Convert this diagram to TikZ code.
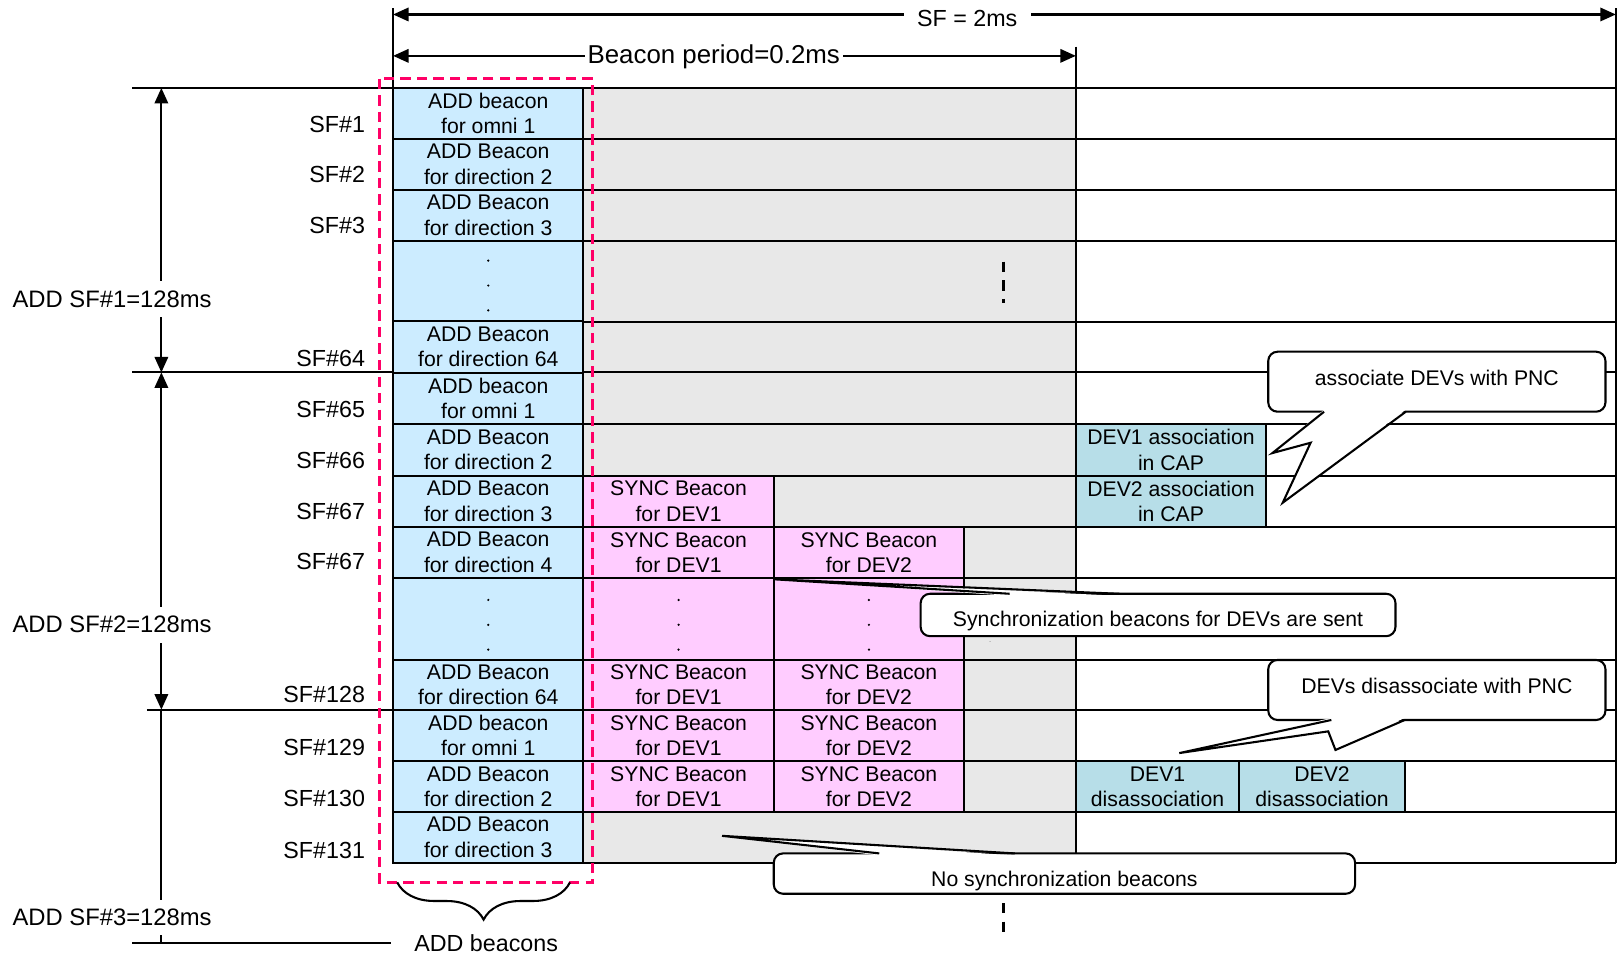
\documentclass[tikz,border=0pt]{standalone}
\usepackage{fontspec}
\setmainfont{Liberation Sans}
\usetikzlibrary{arrows.meta,positioning,decorations.pathreplacing,calc}
\definecolor{addblue}{HTML}{CCECFF}
\definecolor{syncpink}{HTML}{FFCCFF}
\definecolor{devteal}{HTML}{B7DEE8}
\definecolor{periodgray}{HTML}{E8E8E8}
\definecolor{hotpink}{HTML}{FF0066}
\tikzset{
  cell/.style={draw, line width=2pt, minimum height=49.5pt, inner sep=0pt, align=center,
               font=\fontsize{20.5}{24.5}\selectfont},
  addcell/.style={cell, fill=addblue, minimum width=184pt},
  synccell/.style={cell, fill=syncpink, minimum width=184pt},
  devcell/.style={cell, fill=devteal},
  sfnum/.style={anchor=east, inner sep=0pt, font=\fontsize{22.5}{27}\selectfont},
  dimlab/.style={anchor=west, fill=white, inner xsep=0pt, inner ysep=9pt, font=\fontsize{23}{27}\selectfont},
  callout/.style={draw, line width=2pt, fill=white, rounded corners=9pt, align=center, outer sep=0pt,
                  inner sep=0pt, text depth=4pt, font=\fontsize{20.5}{24.5}\selectfont},
  pointer/.style={line width=2pt, line join=miter},
  dimarr/.style={{Triangle[length=15pt,width=13pt]}-{Triangle[length=15pt,width=13pt]}, line width=2pt},
  gridline/.style={line width=2pt},
  gapdash/.style={line width=2.5pt, dash pattern=on 10pt off 8pt},
}
\begin{document}
\begin{tikzpicture}[x=1pt, y=-1pt]
  \useasboundingbox (0,0) rectangle (1568,923);
  % beacon period background
  \fill[periodgray] (564,85) rectangle (1040,834);
  % frame of the superframes
  \foreach \y in {85,134.3,183.6,233,311,360,410,460,509,559,638,686,736,785,834}
    \draw[gridline] (380,\y) -- (1562,\y);
  \draw[gridline] (380,8) -- (380,834);
  \draw[gridline] (564,85) -- (564,834);
  \draw[gridline] (1040,45) -- (1040,834);
  \draw[gridline] (1562,8) -- (1562,834);
  \draw[gridline] (128,85) -- (380,85);
  \draw[gridline] (128,360) -- (380,360);
  \draw[gridline] (142,686) -- (380,686);
  \draw[gridline] (128,912) -- (378,912);

  % ADD beacons
  \node[addcell] (add1) at (472,109.7) {ADD beacon\\for omni 1};
  \node[addcell] (add2) at (472,159) {ADD Beacon\\for direction 2};
  \node[addcell] (add3) at (472,208.3) {ADD Beacon\\for direction 3};
  \node[addcell, minimum height=78pt] (adddotsA) at (472,272) {};
  \node[addcell] (add64) at (472,335.5) {ADD Beacon\\for direction 64};
  \node[addcell] (add65) at (472,385) {ADD beacon\\for omni 1};
  \node[addcell] (add66) at (472,435) {ADD Beacon\\for direction 2};
  \node[addcell] (add67) at (472,484.5) {ADD Beacon\\for direction 3};
  \node[addcell] (add68) at (472,534) {ADD Beacon\\for direction 4};
  \node[addcell, minimum height=79pt] (adddotsB) at (472,598.5) {};
  \node[addcell, minimum height=48pt] (add128) at (472,662) {ADD Beacon\\for direction 64};
  \node[addcell] (add129) at (472,711) {ADD beacon\\for omni 1};
  \node[addcell] (add130) at (472,760.5) {ADD Beacon\\for direction 2};
  \node[addcell] (add131) at (472,809.5) {ADD Beacon\\for direction 3};

  % SYNC beacons
  \node[synccell] (syncA67) at (656,484.5) {SYNC Beacon\\for DEV1};
  \node[synccell] (syncA68) at (656,534) {SYNC Beacon\\for DEV1};
  \node[synccell] (syncB68) at (840,534) {SYNC Beacon\\for DEV2};
  \node[synccell, minimum height=79pt] (syncAdots) at (656,598.5) {};
  \node[synccell, minimum height=79pt] (syncBdots) at (840,598.5) {};
  \node[synccell, minimum height=48pt] (syncA128) at (656,662) {SYNC Beacon\\for DEV1};
  \node[synccell, minimum height=48pt] (syncB128) at (840,662) {SYNC Beacon\\for DEV2};
  \node[synccell] (syncA129) at (656,711) {SYNC Beacon\\for DEV1};
  \node[synccell] (syncB129) at (840,711) {SYNC Beacon\\for DEV2};
  \node[synccell] (syncA130) at (656,760.5) {SYNC Beacon\\for DEV1};
  \node[synccell] (syncB130) at (840,760.5) {SYNC Beacon\\for DEV2};

  % CAP traffic
  \node[devcell, minimum width=184pt] (dev1as) at (1132,435) {DEV1 association\\in CAP};
  \node[devcell, minimum width=184pt] (dev2as) at (1132,484.5) {DEV2 association\\in CAP};
  \node[devcell, minimum width=158pt] (dev1dis) at (1119,760.5) {DEV1\\disassociation};
  \node[devcell, minimum width=160pt] (dev2dis) at (1278,760.5) {DEV2\\disassociation};

  % dots
  \foreach \y in {252,276,300}
    \fill (472,\y) circle (1.2pt);
  \foreach \x in {472,656,840}
    \foreach \y in {580,604,628}
      \fill (\x,\y) circle (1.2pt);
  \draw[gapdash] (970,253) -- (970,293);
  \draw[gapdash] (957,584) -- (957,620);
  \draw[gapdash] (970,873) -- (970,901);

  % SF labels
  \node[sfnum] (sf1) at (353,120) {SF\#1};
  \node[sfnum] (sf2) at (353,169) {SF\#2};
  \node[sfnum] (sf3) at (353,218) {SF\#3};
  \node[sfnum] (sf64) at (353,347) {SF\#64};
  \node[sfnum] (sf65) at (353,396) {SF\#65};
  \node[sfnum] (sf66) at (353,445) {SF\#66};
  \node[sfnum] (sf67) at (353,494) {SF\#67};
  \node[sfnum] (sf67b) at (353,543) {SF\#67};
  \node[sfnum] (sf128) at (353,671) {SF\#128};
  \node[sfnum] (sf129) at (353,723) {SF\#129};
  \node[sfnum] (sf130) at (353,772) {SF\#130};
  \node[sfnum] (sf131) at (353,822) {SF\#131};

  % callouts
  \node[callout, text height=11pt, minimum width=326pt, minimum height=58pt] (assoc) at (1389,369) {associate DEVs with PNC};
  \coordinate (aTipA) at (1230,438);
  \coordinate (aCross) at (1267,428);
  \coordinate (aTipB) at (1240,486);
  \fill[white] ([xshift=54pt,yshift=2pt]assoc.south west) -- (aTipA) -- (aCross) -- (aTipB)
    -- ([xshift=133pt,yshift=2pt]assoc.south west) -- cycle;
  \draw[pointer] ([xshift=54pt]assoc.south west) -- (aTipA) -- (aCross) -- (aTipB)
    -- ([xshift=133pt]assoc.south west);

  \node[callout, text height=26pt, minimum width=459pt, minimum height=41pt] (syncnote) at (1119.5,594.5) {Synchronization beacons for DEVs are sent};
  \coordinate (sTip) at (748,560);
  \fill[white] ([xshift=86pt,yshift=-2pt]syncnote.north west) -- (sTip)
    -- ([xshift=192pt,yshift=-2pt]syncnote.north west) -- cycle;
  \draw[pointer] ([xshift=86pt]syncnote.north west) -- (sTip) -- ([xshift=192pt]syncnote.north west);

  \node[callout, text height=11pt, minimum width=326pt, minimum height=58pt] (disassoc) at (1389,667) {DEVs disassociate with PNC};
  \coordinate (dTipA) at (1140,728);
  \coordinate (dCross) at (1284,707);
  \coordinate (dTipB) at (1291,725);
  \fill[white] ([xshift=61pt,yshift=2pt]disassoc.south west) -- (dTipA) -- (dCross) -- (dTipB)
    -- ([xshift=132pt,yshift=2pt]disassoc.south west) -- cycle;
  \draw[pointer] ([xshift=61pt]disassoc.south west) -- (dTipA) -- (dCross) -- (dTipB)
    -- ([xshift=132pt]disassoc.south west);

  \node[callout, text height=28pt, minimum width=562pt, minimum height=39pt] (nosync) at (1029,844.5) {No synchronization beacons};
  \coordinate (nTip) at (698,808);
  \fill[white] ([xshift=102pt,yshift=-2pt]nosync.north west) -- (nTip)
    -- ([xshift=233pt,yshift=-2pt]nosync.north west) -- cycle;
  \draw[pointer] ([xshift=102pt]nosync.north west) -- (nTip) -- ([xshift=233pt]nosync.north west);

  % ADD beacons window
  \draw[hotpink, line width=2.5pt, dash pattern=on 10pt off 6pt] (367,76) rectangle (573,853);
  \coordinate (braceL) at (384,853);
  \coordinate (braceR) at (551,853);
  \draw[line width=2pt, decorate, decoration={brace, mirror, amplitude=36pt}] (braceL) -- (braceR);
  \node[font=\fontsize{22.5}{27}\selectfont] (addlab) at (470,912) {ADD beacons};

  % durations
  \coordinate (sfL) at (380,14);
  \coordinate (sfR) at (1562,14);
  \draw[dimarr] (sfL) -- (sfR);
  \node[fill=white, inner xsep=13pt, inner ysep=2pt, font=\fontsize{22.5}{27}\selectfont] (sflen) at (935,18) {SF = 2ms};
  \coordinate (bpL) at (380,54);
  \coordinate (bpR) at (1040,54);
  \draw[dimarr] (bpL) -- (bpR);
  \node[fill=white, inner xsep=3pt, inner ysep=2pt, font=\fontsize{25}{30}\selectfont] (bplen) at (690,55) {Beacon period=0.2ms};

  \coordinate (addA) at (156,85);
  \coordinate (addB) at (156,360);
  \coordinate (addC) at (156,686);
  \coordinate (addD) at (156,912);
  \draw[dimarr] (addA) -- (addB);
  \draw[dimarr] (addB) -- (addC);
  \draw[gridline] (addC) -- (addD);
  \node[dimlab] (len1) at (12,289) {ADD SF\#1=128ms};
  \node[dimlab] (len2) at (12,604) {ADD SF\#2=128ms};
  \node[dimlab] (len3) at (12,887) {ADD SF\#3=128ms};
\end{tikzpicture}
\end{document}
